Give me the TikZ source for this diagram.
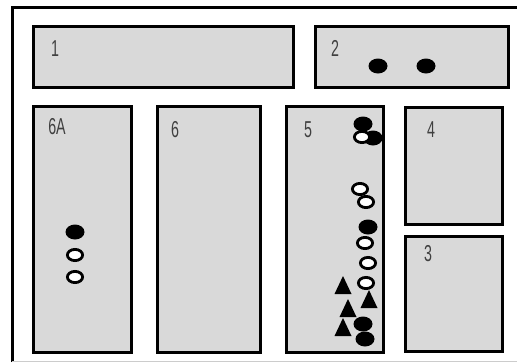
\documentclass[tikz,border=0pt]{standalone}
\usepackage{fontspec}
\setmainfont{Liberation Sans}[FakeStretch=0.62]
\begin{document}
\begin{tikzpicture}[x=1pt, y=-1pt,
    room/.style={draw, line width=3pt, fill=black!15, inner sep=0pt},
    lbl/.style={inner sep=0pt, text=black!75, font=\fontsize{23}{25}\selectfont},
    blk/.style={fill=black},
    wht/.style={draw=black, line width=2.8pt, fill=white}]
\useasboundingbox (0,0) rectangle (517,362);
% outer frame
\draw[line width=3pt] (12,362) -- (12,7) -- (518,7);
\draw[black!20, line width=1pt] (12,361) -- (517,361);
% rooms
\node[room, minimum width=260, minimum height=61] (r1) at (163,56.5) {};
\node[room, minimum width=193, minimum height=61] (r2) at (411.5,56.5) {};
\node[room, minimum width=98, minimum height=246] (r6A) at (82,229) {};
\node[room, minimum width=103, minimum height=246] (r6) at (208.5,229) {};
\node[room, minimum width=97, minimum height=246] (r5) at (334.5,229) {};
\node[room, minimum width=97, minimum height=117] (r4) at (454,165.5) {};
\node[room, minimum width=97, minimum height=115] (r3) at (454,293.5) {};
% labels
\node[lbl] (l1) at (55,49) {1};
\node[lbl] (l2) at (335,48) {2};
\node[lbl] (l6A) at (57,127) {6A};
\node[lbl] (l6) at (175,130) {6};
\node[lbl] (l5) at (308,130) {5};
\node[lbl] (l4) at (431,130) {4};
\node[lbl] (l3) at (428,254) {3};
% black dots
\foreach \p in {(378,66), (426,66), (75,232), (363,124), (373,138), (368,227), (363,324), (365,339)}
  \fill[blk] \p ellipse (9.5 and 7.5);
% white dots
\foreach \p in {(362,137), (75,255), (75,277), (360,189), (366,202), (365,243), (368,263), (366,283)}
  \draw[wht] \p ellipse (7.6 and 5.6);
% triangles
\foreach \p in {(343,285), (369,299), (348,308), (343,327)}
  \fill[blk] \p ++(-8.5,9) -- ++(17,0) -- ++(-8.5,-18) -- cycle;
\end{tikzpicture}
\end{document}
